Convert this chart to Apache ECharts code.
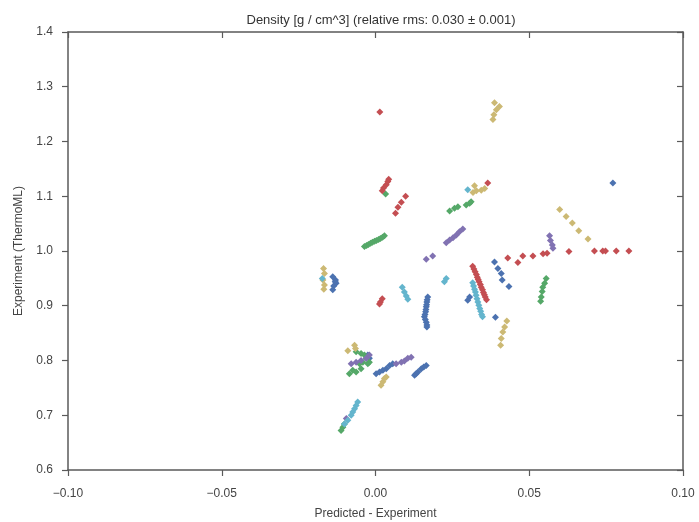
<!DOCTYPE html>
<html>
<head>
<meta charset="utf-8">
<script src="https://cdn.jsdelivr.net/npm/echarts@6/dist/echarts.min.js"></script>
<style>
html,body{margin:0;padding:0;background:#fff;}
#c{width:699px;height:522px;}
</style>
</head>
<body>
<div id="c"></div>
<script>
const titleText = 'Density [g / cm^3] (relative rms: 0.030 \u00b1 0.001)';
const xName = 'Predicted - Experiment';
const yName = 'Experiment (ThermoML)';
const xTicks = [-0.10, -0.05, 0.00, 0.05, 0.10];
const yTicks = [0.6, 0.7, 0.8, 0.9, 1.0, 1.1, 1.2, 1.3, 1.4];

const blue = [
  [0.0772,1.124],
  [-0.0139,0.953],[-0.0130,0.947],[-0.0128,0.941],[-0.0136,0.936],[-0.0139,0.929],[-0.0131,0.944],
  [0.0170,0.916],[0.0168,0.911],[0.0167,0.907],[0.0166,0.902],[0.0165,0.898],[0.0164,0.893],[0.0163,0.889],
  [0.0161,0.884],[0.0159,0.880],[0.0162,0.875],[0.0165,0.870],[0.0167,0.865],[0.0167,0.861],
  [0.0300,0.910],[0.0306,0.916],
  [0.0387,0.980],[0.0398,0.968],[0.0409,0.959],[0.0412,0.947],[0.0434,0.935],
  [0.0390,0.879],
  [-0.0025,0.810],[-0.0020,0.804],
  [0.0002,0.776],[0.0013,0.779],[0.0024,0.782],[0.0035,0.785],[0.0046,0.791],[0.0056,0.794],
  [0.0127,0.773],[0.0132,0.776],[0.0138,0.779],[0.0149,0.785],[0.0157,0.788],[0.0165,0.791]
];
const green = [
  [0.0033,1.104],
  [-0.0036,1.008],[-0.0029,1.010],[-0.0023,1.012],[-0.0016,1.014],[-0.0010,1.016],[-0.0003,1.018],
  [0.0003,1.019],[0.0010,1.021],[0.0016,1.023],[0.0023,1.025],[0.0029,1.028],
  [0.0241,1.073],[0.0257,1.078],[0.0268,1.081],[0.0295,1.084],[0.0306,1.087],[0.0311,1.090],
  [0.0555,0.950],[0.0550,0.941],[0.0544,0.934],[0.0542,0.926],[0.0539,0.916],[0.0537,0.908],
  [-0.0063,0.816],[-0.0047,0.813],[-0.0036,0.810],[-0.0030,0.804],[-0.0041,0.797],[-0.0025,0.794],
  [-0.0052,0.794],[-0.0074,0.782],[-0.0085,0.776],[-0.0063,0.779],[-0.0047,0.785],[-0.0020,0.797],
  [-0.0112,0.672],[-0.0106,0.678],[-0.0101,0.684]
];
const red = [
  [0.0014,1.254],
  [0.0022,1.110],[0.0026,1.115],[0.0035,1.121],[0.0040,1.127],[0.0043,1.131],
  [0.0065,1.069],[0.0073,1.080],[0.0084,1.089],[0.0098,1.100],
  [0.0365,1.124],
  [0.0016,0.907],[0.0022,0.913],[0.0013,0.903],
  [0.0316,0.972],[0.0320,0.967],[0.0324,0.962],[0.0328,0.957],[0.0331,0.952],[0.0334,0.948],[0.0337,0.944],
  [0.0341,0.939],[0.0344,0.934],[0.0348,0.929],[0.0351,0.924],[0.0354,0.920],[0.0357,0.916],[0.0361,0.911],
  [0.0430,0.987],[0.0463,0.979],[0.0479,0.991],[0.0512,0.991],[0.0545,0.995],[0.0558,0.996],
  [0.0629,0.999],[0.0712,1.000],[0.0739,1.000],[0.0748,1.000],[0.0783,1.000],[0.0824,1.000]
];
const purple = [
  [0.0230,1.015],[0.0241,1.020],[0.0252,1.024],[0.0263,1.029],[0.0273,1.035],[0.0284,1.040],
  [0.0165,0.985],[0.0186,0.991],
  [0.0566,1.028],[0.0569,1.019],[0.0575,1.011],[0.0577,1.005],
  [-0.0079,0.794],[-0.0063,0.797],[-0.0047,0.800],[-0.0030,0.804],[-0.0020,0.810],
  [0.0067,0.794],[0.0084,0.797],[0.0094,0.799],[0.0105,0.804],[0.0116,0.806],
  [-0.0095,0.694]
];
const yellow = [
  [0.0387,1.271],[0.0403,1.264],[0.0393,1.258],[0.0385,1.249],[0.0382,1.240],
  [0.0322,1.119],[0.0328,1.110],[0.0344,1.111],[0.0355,1.114],[0.0317,1.107],
  [0.0599,1.076],[0.0620,1.063],[0.0640,1.051],[0.0661,1.037],[0.0691,1.022],
  [-0.0169,0.968],[-0.0166,0.959],[-0.0171,0.947],[-0.0166,0.938],[-0.0168,0.930],
  [0.0427,0.872],[0.0420,0.861],[0.0414,0.852],[0.0409,0.840],[0.0407,0.828],
  [-0.0090,0.818],[-0.0068,0.828],[-0.0065,0.822],
  [0.0018,0.755],[0.0024,0.761],[0.0029,0.767],[0.0035,0.770]
];
const cyan = [
  [0.0300,1.112],
  [-0.0173,0.950],
  [0.0087,0.934],[0.0094,0.925],[0.0100,0.918],[0.0105,0.912],
  [0.0224,0.944],[0.0230,0.950],
  [0.0316,0.942],[0.0319,0.936],[0.0322,0.930],[0.0325,0.925],[0.0327,0.919],[0.0330,0.913],
  [0.0333,0.907],[0.0336,0.901],[0.0339,0.895],[0.0342,0.890],[0.0345,0.884],[0.0348,0.880],
  [-0.0058,0.724],[-0.0063,0.718],[-0.0068,0.712],[-0.0074,0.706],[-0.0079,0.700],[-0.0090,0.691],[-0.0101,0.684]
];

const seriesDefs = [
  {data: blue, color: '#4C72B0'},
  {data: green, color: '#55A868'},
  {data: red, color: '#C44E52'},
  {data: purple, color: '#8172B2'},
  {data: yellow, color: '#CCB974'},
  {data: cyan, color: '#64B5CD'}
];

const FONT = 'Liberation Sans, Arial, sans-serif';
const AX = '#5a5a5a';
const fmtX = v => {
  const s = Math.abs(v).toFixed(2);
  return v < -1e-9 ? '\u2212' + s : s;
};

const chart = echarts.init(document.getElementById('c'), null, {renderer: 'canvas'});
chart.setOption({
  animation: false,
  backgroundColor: '#fff',
  title: {
    text: titleText, left: 376, top: 9, textAlign: 'center',
    textStyle: {fontFamily: FONT, fontSize: 13, fontWeight: 'normal', color: '#333'}
  },
  grid: {left: 68, right: 16, top: 32, bottom: 52, containLabel: false, outerBoundsMode: 'none'},
  xAxis: [
    {
      type: 'value', min: xTicks[0], max: xTicks[xTicks.length-1], interval: 0.05, position: 'bottom',
      name: xName, nameLocation: 'middle', nameGap: 38,
      nameTextStyle: {fontFamily: FONT, fontSize: 12, color: '#444'},
      axisLine: {show: true, onZero: false, lineStyle: {color: AX, width: 1.5}},
      axisTick: {show: true, inside: false, length: 6, lineStyle: {color: AX, width: 1.2}},
      axisLabel: {formatter: fmtX, fontFamily: FONT, fontSize: 12, color: '#444', margin: 18},
      splitLine: {show: false}
    },
    {
      type: 'value', min: xTicks[0], max: xTicks[xTicks.length-1], interval: 0.05, position: 'top',
      axisLine: {show: true, onZero: false, lineStyle: {color: AX, width: 1.5}},
      axisTick: {show: true, inside: true, length: 6, lineStyle: {color: AX, width: 1.2}},
      axisLabel: {show: false}, splitLine: {show: false}
    }
  ],
  yAxis: [
    {
      type: 'value', min: yTicks[0], max: yTicks[yTicks.length-1], interval: 0.1, position: 'left',
      name: yName, nameLocation: 'middle', nameGap: 43, nameRotate: 90,
      nameTextStyle: {fontFamily: FONT, fontSize: 12, color: '#444'},
      axisLine: {show: true, onZero: false, lineStyle: {color: AX, width: 1.5}},
      axisTick: {show: true, inside: false, length: 6, lineStyle: {color: AX, width: 1.2}},
      axisLabel: {formatter: v => v.toFixed(1), fontFamily: FONT, fontSize: 12, color: '#444', margin: 15},
      splitLine: {show: false}
    },
    {
      type: 'value', min: yTicks[0], max: yTicks[yTicks.length-1], interval: 0.1, position: 'right',
      axisLine: {show: true, onZero: false, lineStyle: {color: AX, width: 1.5}},
      axisTick: {show: true, inside: true, length: 6, lineStyle: {color: AX, width: 1.2}},
      axisLabel: {show: false}, splitLine: {show: false}
    }
  ],
  series: seriesDefs.map(s => ({
    type: 'scatter', xAxisIndex: 0, yAxisIndex: 0,
    data: s.data, symbol: 'diamond', symbolSize: 7,
    itemStyle: {color: s.color, opacity: 1},
    emphasis: {disabled: true}
  }))
});
</script>
</body>
</html>
